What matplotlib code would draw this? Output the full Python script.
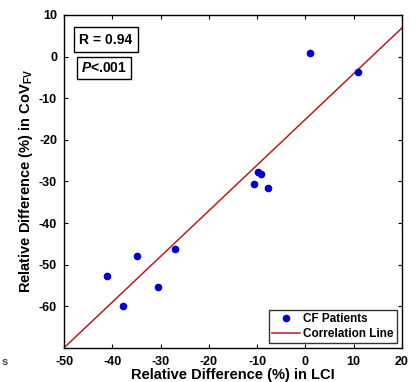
import numpy as np
import matplotlib
matplotlib.use("Agg")
import matplotlib.pyplot as plt

# ── Data ──────────────────────────────────────────────────────────────────
lci_diff = [1.0, 11.0, -9.8, -9.2, -10.7, -7.8, -41.2, -34.9, -37.7, -30.5, -27.1]
cov_diff = [0.9, -3.6, -27.8, -28.3, -30.6, -31.5, -52.7, -48.0, -59.9, -55.4, -46.2]
fit_slope = 1.097
fit_intercept = -15.1
r_text = "R = 0.94"
p_text = r"$\mathit{P}$<.001"

plt.rcParams["font.family"] = ["Liberation Sans", "DejaVu Sans"]
plt.rcParams["font.weight"] = "bold"
plt.rcParams["axes.unicode_minus"] = False
plt.rcParams["mathtext.fontset"] = "custom"
plt.rcParams["mathtext.bf"] = "Liberation Sans:bold"
plt.rcParams["mathtext.it"] = "Liberation Sans:italic:bold"
plt.rcParams["mathtext.rm"] = "Liberation Sans:bold"

fig = plt.figure(figsize=(4.16, 3.82), dpi=100)
ax = fig.add_axes([0.154, 0.089, 0.812, 0.872])

ax.plot(lci_diff, cov_diff, "o", color="#0000cc", ms=4.5, label="CF Patients", zorder=3)
xs = np.array([-50, 20])
ax.plot(xs, fit_slope * xs + fit_intercept, color="#b21f1f", lw=1.1, label="Correlation Line")

ax.set_xlim(-50, 20)
ax.set_ylim(-70, 10)
ax.set_xticks(np.arange(-50, 21, 10))
ax.set_yticks(np.arange(-60, 11, 10))
ax.tick_params(direction="in", top=True, right=True, labelsize=9, length=3, width=0.8)
ax.tick_params(axis="x", pad=6)
ax.tick_params(axis="y", pad=5)
for lbl in ax.get_xticklabels() + ax.get_yticklabels():
    lbl.set_fontweight("bold")
for s in ax.spines.values():
    s.set_linewidth(1.0)

ax.set_xlabel("Relative Difference (%) in LCI", fontsize=10.5, fontweight="bold", labelpad=0)
ax.set_ylabel(r"Relative Difference (%) in CoV$_{\mathbf{FV}}$", fontsize=10.5,
              fontweight="bold", labelpad=3)

ax.text(0.045, 0.925, r_text, transform=ax.transAxes, fontsize=10, fontweight="bold",
        va="center", ha="left",
        bbox=dict(boxstyle="square,pad=0.4", fc="white", ec="black", lw=1.0))
ax.text(0.05, 0.84, p_text, transform=ax.transAxes, fontsize=10, fontweight="bold",
        va="center", ha="left",
        bbox=dict(boxstyle="square,pad=0.3", fc="white", ec="black", lw=1.0))

leg = ax.legend(loc="lower right", fontsize=8.5, frameon=True, fancybox=False,
                edgecolor="black", borderpad=0.3, handlelength=2.3, handletextpad=0.3,
                labelspacing=0.2, borderaxespad=0.4)
leg.get_frame().set_linewidth(1.0)
for t in leg.get_texts():
    t.set_fontweight("bold")

fig.text(0.005, 0.045, "s", fontsize=8, color="#444444")

fig.savefig("out.png", dpi=100)
